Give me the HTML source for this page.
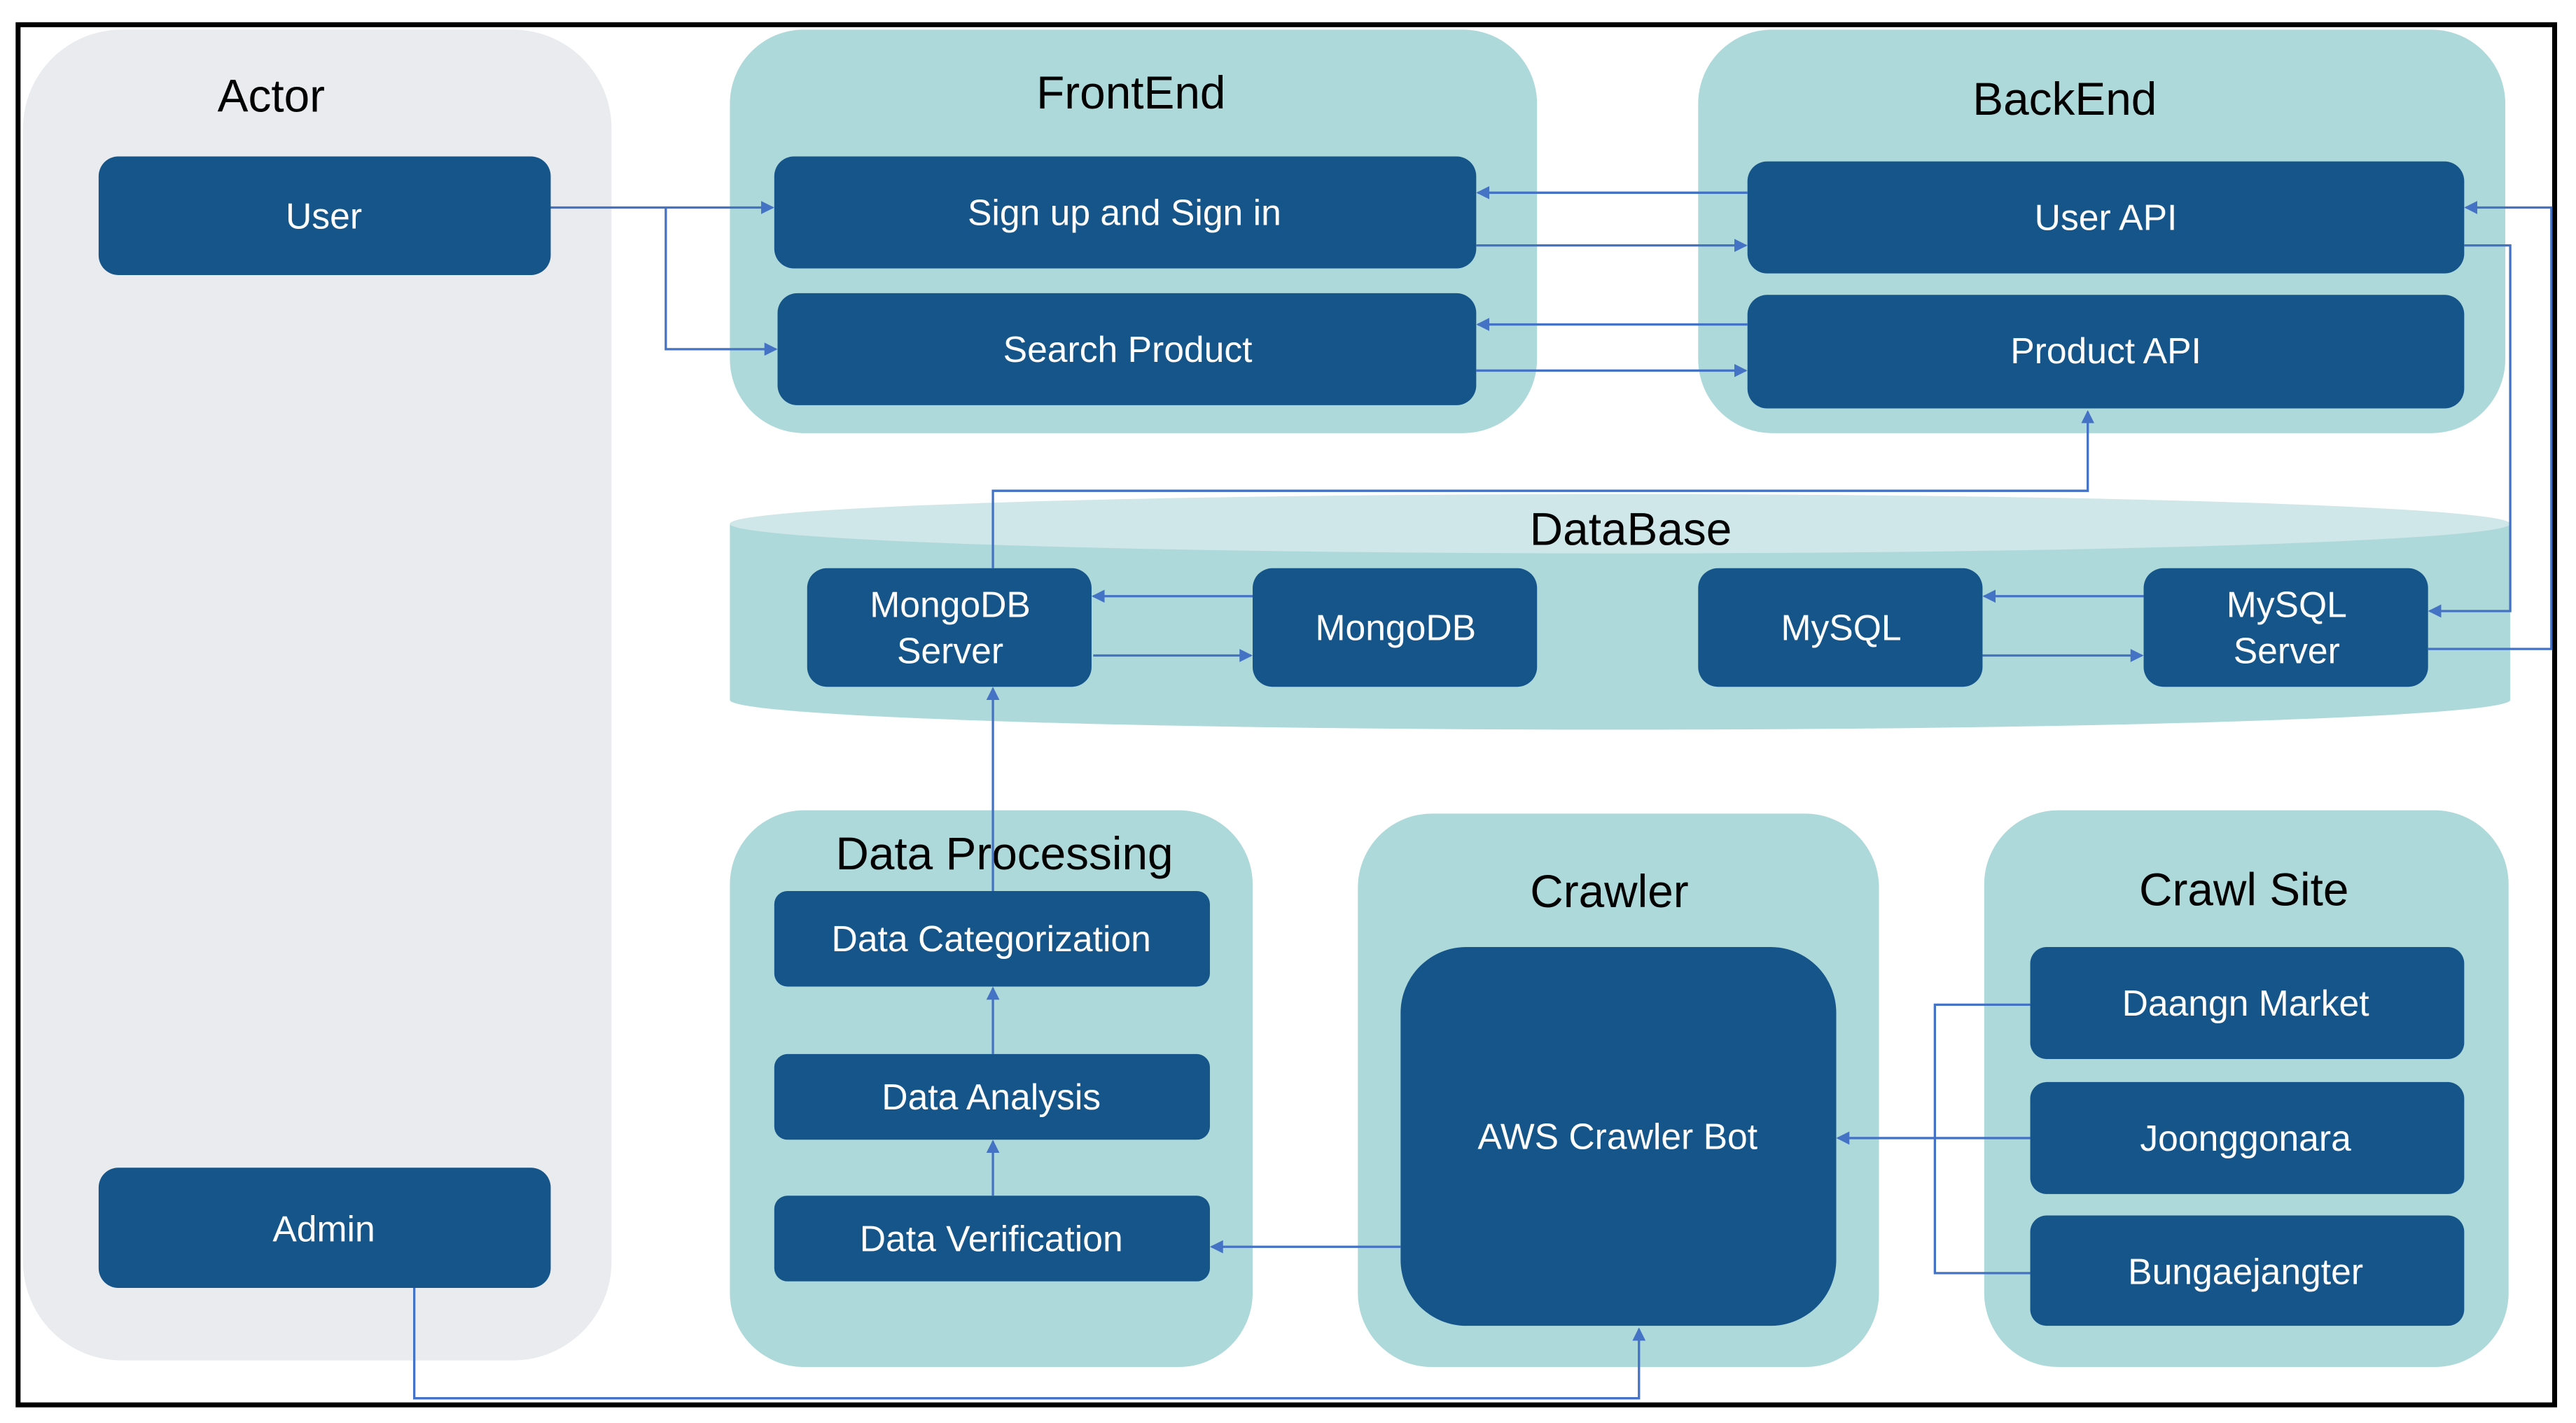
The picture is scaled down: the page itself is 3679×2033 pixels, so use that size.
<!DOCTYPE html>
<html><head><meta charset="utf-8"><style>
html,body{margin:0;padding:0;background:#fff;}
svg{display:block;}
text{font-family:"Liberation Sans",sans-serif;}
.b{fill:#15558A;}
.t{fill:#fff;font-size:22px;text-anchor:middle;dominant-baseline:central;}
.h{fill:#000;font-size:28px;text-anchor:middle;dominant-baseline:central;}
.l{fill:none;stroke:#4472C4;stroke-width:1.4;}
</style></head><body>
<svg width="3679" height="2033" viewBox="0 0 1567 864" preserveAspectRatio="none">
<defs><marker id="a" markerWidth="8" markerHeight="8" refX="7" refY="4" orient="auto" markerUnits="userSpaceOnUse"><path d="M0,0 L8,4 L0,8 z" fill="#4472C4"/></marker></defs>
<rect x="0" y="0" width="1567" height="864" fill="#fff"/>
<rect x="11" y="15" width="1543" height="838" fill="none" stroke="#000" stroke-width="3"/>
<rect x="14" y="18" width="358" height="808" rx="60" fill="#EAEBEE"/>
<rect x="444" y="18" width="491" height="245" rx="45" fill="#AED9DA"/>
<rect x="1033" y="18" width="491" height="245" rx="45" fill="#AED9DA"/>
<rect x="444" y="492" width="318" height="338" rx="45" fill="#AED9DA"/>
<rect x="826" y="494" width="317" height="336" rx="45" fill="#AED9DA"/>
<rect x="1207" y="492" width="319" height="338" rx="45" fill="#AED9DA"/>
<path d="M444,318 L444,425 A541,18 0 0 0 1527,425 L1527,318 Z" fill="#AED9DA"/>
<ellipse cx="985.5" cy="318" rx="541.5" ry="18" fill="#CFE7E8"/>
<text class="h" x="165" y="58">Actor</text>
<text class="h" x="688" y="56">FrontEnd</text>
<text class="h" x="1256" y="60">BackEnd</text>
<text class="h" x="992" y="321">DataBase</text>
<text class="h" x="611" y="518">Data  Processing</text>
<text class="h" x="979" y="541">Crawler</text>
<text class="h" x="1365" y="540">Crawl  Site</text>
<rect class="b" x="60" y="95" width="275" height="72" rx="12"/><text class="t" x="197" y="131">User</text>
<rect class="b" x="60" y="709" width="275" height="73" rx="12"/><text class="t" x="197" y="746">Admin</text>
<rect class="b" x="471" y="95" width="427" height="68" rx="12"/><text class="t" x="684" y="129">Sign up and Sign in</text>
<rect class="b" x="473" y="178" width="425" height="68" rx="12"/><text class="t" x="686" y="212">Search Product</text>
<rect class="b" x="1063" y="98" width="436" height="68" rx="12"/><text class="t" x="1281" y="132">User API</text>
<rect class="b" x="1063" y="179" width="436" height="69" rx="12"/><text class="t" x="1281" y="213">Product API</text>
<rect class="b" x="491" y="345" width="173" height="72" rx="12"/><text class="t" x="578" y="367">MongoDB</text><text class="t" x="578" y="395">Server</text>
<rect class="b" x="762" y="345" width="173" height="72" rx="12"/><text class="t" x="849" y="381">MongoDB</text>
<rect class="b" x="1033" y="345" width="173" height="72" rx="12"/><text class="t" x="1120" y="381">MySQL</text>
<rect class="b" x="1304" y="345" width="173" height="72" rx="12"/><text class="t" x="1391" y="367">MySQL</text><text class="t" x="1391" y="395">Server</text>
<rect class="b" x="471" y="541" width="265" height="58" rx="8"/><text class="t" x="603" y="570">Data Categorization</text>
<rect class="b" x="471" y="640" width="265" height="52" rx="8"/><text class="t" x="603" y="666">Data Analysis</text>
<rect class="b" x="471" y="726" width="265" height="52" rx="8"/><text class="t" x="603" y="752">Data Verification</text>
<rect class="b" x="852" y="575" width="265" height="230" rx="40"/><text class="t" x="984" y="690">AWS Crawler Bot</text>
<rect class="b" x="1235" y="575" width="264" height="68" rx="10"/><text class="t" x="1366" y="609">Daangn Market</text>
<rect class="b" x="1235" y="657" width="264" height="68" rx="10"/><text class="t" x="1366" y="691">Joonggonara</text>
<rect class="b" x="1235" y="738" width="264" height="67" rx="10"/><text class="t" x="1366" y="772">Bungaejangter</text>
<path class="l" d="M335,126 H470" marker-end="url(#a)"/>
<path class="l" d="M405,126 V212 H472" marker-end="url(#a)"/>
<path class="l" d="M1063,117 H899" marker-end="url(#a)"/>
<path class="l" d="M898,149 H1062" marker-end="url(#a)"/>
<path class="l" d="M1063,197 H899" marker-end="url(#a)"/>
<path class="l" d="M898,225 H1062" marker-end="url(#a)"/>
<path class="l" d="M604,345 V298 H1270 V250" marker-end="url(#a)"/>
<path class="l" d="M1499,149 H1527 V371 H1478" marker-end="url(#a)"/>
<path class="l" d="M1477,394 H1552 V126 H1500" marker-end="url(#a)"/>
<path class="l" d="M762,362 H665" marker-end="url(#a)"/>
<path class="l" d="M665,398 H761" marker-end="url(#a)"/>
<path class="l" d="M1304,362 H1207" marker-end="url(#a)"/>
<path class="l" d="M1206,398 H1303" marker-end="url(#a)"/>
<path class="l" d="M604,541 V418" marker-end="url(#a)"/>
<path class="l" d="M604,640 V600" marker-end="url(#a)"/>
<path class="l" d="M604,726 V693" marker-end="url(#a)"/>
<path class="l" d="M852,757 H737" marker-end="url(#a)"/>
<path class="l" d="M1235,610 H1177 V773 H1235"/>
<path class="l" d="M1235,691 H1118" marker-end="url(#a)"/>
<path class="l" d="M252,782 V849 H997 V807" marker-end="url(#a)"/>
</svg>
</body></html>
